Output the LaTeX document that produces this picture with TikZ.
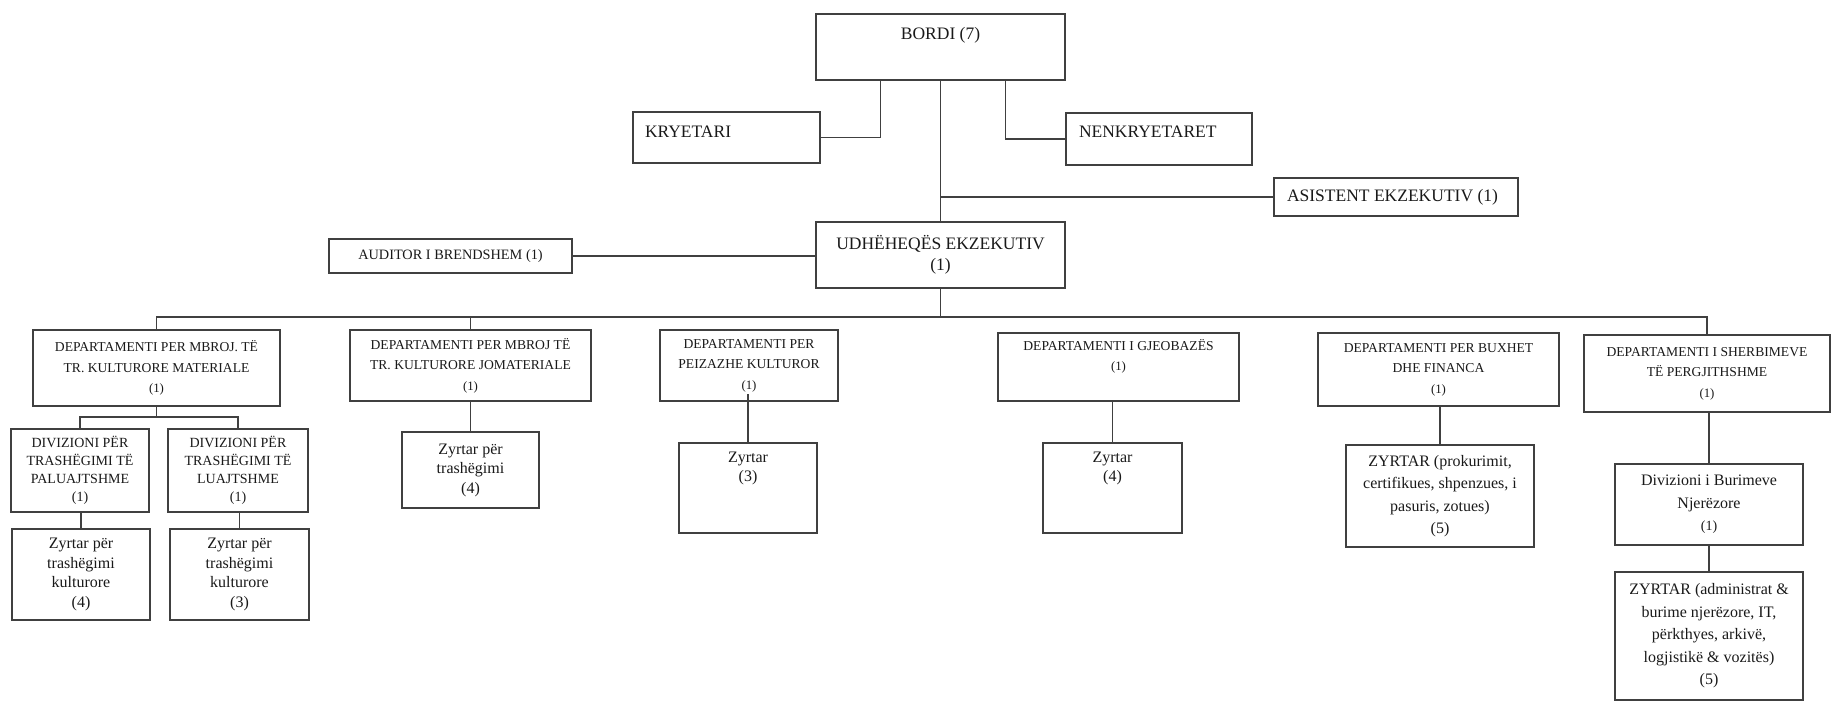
\documentclass[tikz,border=0pt]{standalone}
\usepackage{fontspec}
\setmainfont{Liberation Serif}
\usepackage{tikz}
\usetikzlibrary{positioning, calc}
\definecolor{linegray}{rgb}{0.25, 0.25, 0.25}
\definecolor{textgray}{rgb}{0.1, 0.1, 0.1}

\begin{document}
\begin{tikzpicture}[x=1pt, y=-1pt, line width=1.6pt, draw=linegray,
	every node/.style={text=textgray},
	box/.style={draw=linegray, inner sep=0pt, align=center},
	big/.style={font=\fontsize{17.5}{21.5}\selectfont},
	aud/.style={box, font=\fontsize{14.3}{17}\selectfont},
	dept/.style={box, font=\fontsize{13.6}{20.5}\selectfont},
	divbox/.style={box, font=\fontsize{14}{18}\selectfont},
	zyr/.style={box, font=\fontsize{16}{19.5}\selectfont},
	zyrr/.style={box, font=\fontsize{16}{22.5}\selectfont}]
	\useasboundingbox (0,0) rectangle (1832,701);
	\pgfmathsetmacro{\busy}{317}
	\newcommand{\one}{{\fontsize{12.8}{13}\selectfont (1)}}

	% top of the chart
	\node[box, minimum width=249pt, minimum height=66pt] (bordi) at (940.5,47) {};
	\node[big, anchor=base] (bordi-t) at ($(bordi.north)+(0,26)$) {BORDI (7)};
	\node[box, minimum width=187pt, minimum height=51pt] (kry) at (726.5,137.5) {};
	\node[big, anchor=base west, inner sep=0pt] (kry-t) at ($(kry.west)+(12,0)$) {KRYETARI};
	\node[box, minimum width=186pt, minimum height=52pt] (nenk) at (1159,139) {};
	\node[big, anchor=base west, inner sep=0pt] (nenk-t) at ($(nenk.west)+(13,-1.7)$) {NENKRYETARET};
	\node[box, minimum width=244pt, minimum height=38pt] (asis) at (1396,197) {};
	\node[big, anchor=base west, inner sep=0pt] (asis-t) at ($(asis.west)+(13,4.8)$) {ASISTENT EKZEKUTIV (1)};
	\node[box, big, minimum width=249pt, minimum height=66pt] (udh) at (940.5,255) {UDHËHEQËS EKZEKUTIV\\(1)};
	\node[aud, minimum width=243pt, minimum height=34pt] (audit) at (450.5,256) {AUDITOR I BRENDSHEM (1)};

	\draw (kry.east) -| ($(bordi.south west)!0.261!(bordi.south east)$);
	\draw (nenk.west) -| ($(bordi.south west)!0.759!(bordi.south east)$);
	\draw (bordi) -- (udh);
	\draw (asis.west) -- (asis.west -| bordi.south);
	\draw (audit.east) -- (audit.east -| udh.west);

	% departments
	\node[dept, minimum width=247pt, minimum height=76pt] (d1) at (156.5,368) {DEPARTAMENTI PER MBROJ. TË\\TR. KULTURORE MATERIALE\\\one};
	\node[dept, minimum width=241pt, minimum height=71pt] (d2) at (470.5,365.5) {DEPARTAMENTI PER MBROJ TË\\TR. KULTURORE JOMATERIALE\\\one};
	\node[dept, minimum width=178pt, minimum height=71pt] (d3) at (749,365.5) {DEPARTAMENTI PER\\PEIZAZHE KULTUROR\\\one};
	\node[dept, minimum width=241pt, minimum height=68pt] (d4) at (1118.5,367) {DEPARTAMENTI I GJEOBAZËS\\\one\\[4pt]};
	\node[dept, minimum width=241pt, minimum height=73pt] (d5) at (1438.5,369.5) {DEPARTAMENTI PER BUXHET\\DHE FINANCA\\\one};
	\node[dept, minimum width=246pt, minimum height=77pt] (d6) at (1707,373.5) {DEPARTAMENTI I SHERBIMEVE\\TË PERGJITHSHME\\\one};

	\coordinate (bus) at (940.5,\busy);
	\draw (udh.south) -- (bus);
	\draw (d1.north) |- (bus) -| (d6.north);
	\draw (d2.north) -- (d2.north |- bus);
	\draw ($(d3.north)+(11,0)$) -- ($(d3.north)+(11,0)$ |- bus);
	\draw ($(d4.north)+(-6.5,0)$) -- ($(d4.north)+(-6.5,0)$ |- bus);
	\draw ($(d5.north)+(2.5,0)$) -- ($(d5.north)+(2.5,0)$ |- bus);

	% under the departments
	\node[divbox, minimum width=138pt, minimum height=83pt] (s1) at (80,470.5) {DIVIZIONI PËR\\TRASHËGIMI TË\\PALUAJTSHME\\(1)};
	\node[divbox, minimum width=140pt, minimum height=83pt] (s2) at (238,470.5) {DIVIZIONI PËR\\TRASHËGIMI TË\\LUAJTSHME\\(1)};
	\node[zyr, minimum width=138pt, minimum height=91pt] (b1) at (81,574.5) {Zyrtar për\\trashëgimi\\kulturore\\(4)};
	\node[zyr, minimum width=139pt, minimum height=91pt] (b2) at (239.5,574.5) {Zyrtar për\\trashëgimi\\kulturore\\(3)};
	\node[zyr, minimum width=137pt, minimum height=76pt] (c2) at (470.5,470) {Zyrtar për\\trashëgimi\\(4)};
	\node[box, minimum width=138pt, minimum height=90pt] (c3) at (748,488) {};
	\node[zyr, draw=none, anchor=north] (c3-t) at ($(c3.north)+(0,9)$) {Zyrtar\\(3)};
	\node[box, minimum width=139pt, minimum height=90pt] (c4) at (1112.5,488) {};
	\node[zyr, draw=none, anchor=north] (c4-t) at ($(c4.north)+(0,9)$) {Zyrtar\\(4)};
	\node[zyrr, minimum width=188pt, minimum height=102pt] (c5) at (1440,496) {ZYRTAR (prokurimit,\\certifikues, shpenzues, i\\pasuris, zotues)\\(5)};
	\node[zyrr, minimum width=188pt, minimum height=81pt] (c6) at (1709,504.5) {Divizioni i Burimeve\\Njerëzore\\{\fontsize{14}{14}\selectfont (1)}};
	\node[zyrr, minimum width=188pt, minimum height=128pt] (c7) at (1709,636) {ZYRTAR (administrat \&\\burime njerëzore, IT,\\përkthyes, arkivë,\\logjistikë \& vozitës)\\(5)};

	\draw (d1.south) -- ++(0,10) coordinate (d1b);
	\draw (s1.north) |- (d1b) -| (s2.north);
	\draw (b1.north) -- (b1.north |- s1.south);
	\draw (b2.north) -- (b2.north |- s2.south);
	\draw (c2.north) -- (c2.north |- d2.south);
	\draw (c3.north) -- ($(c3.north |- d3.south)+(0,-8)$);
	\draw (c4.north) -- (c4.north |- d4.south);
	\draw (c5.north) -- (c5.north |- d5.south);
	\draw (c6.north) -- (c6.north |- d6.south);
	\draw (c6) -- (c7);
\end{tikzpicture}
\end{document}
